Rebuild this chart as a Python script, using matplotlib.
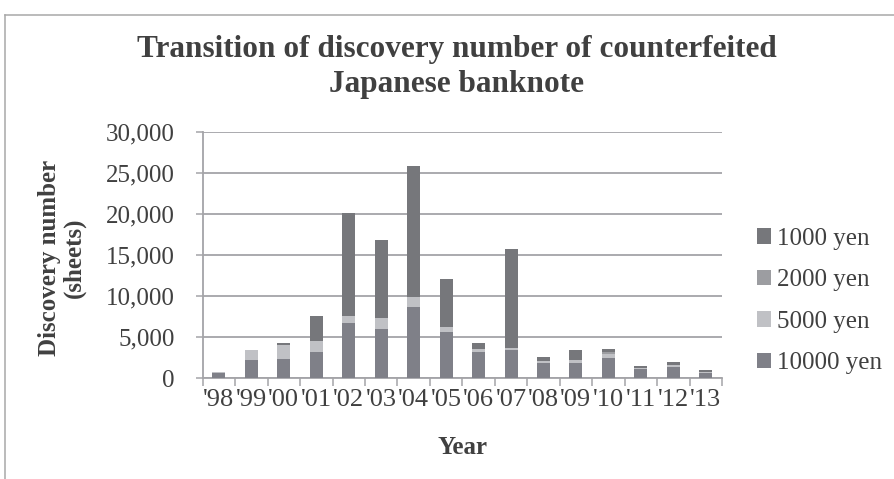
import matplotlib
matplotlib.use("Agg")
import matplotlib.pyplot as plt
from matplotlib.lines import Line2D
from matplotlib.patches import Patch
import numpy as np

# Counterfeit banknotes discovered per year, by denomination (sheets)
years = ["'98", "'99", "'00", "'01", "'02", "'03", "'04", "'05",
         "'06", "'07", "'08", "'09", "'10", "'11", "'12", "'13"]
yen10000 = [700, 2290, 2360, 3180, 6800, 6060, 8720, 5660,
            3250, 3460, 1870, 1870, 2480, 1140, 1420, 610]
yen5000 = [50, 1150, 1710, 1345, 780, 1300, 1140, 610,
           330, 245, 280, 370, 450, 160, 200, 160]
yen2000 = [0, 0, 0, 0, 0, 0, 0, 0,
           0, 0, 0, 0, 240, 0, 0, 0]
yen1000 = [50, 0, 200, 3060, 12630, 9540, 16010, 5900,
           700, 12100, 420, 1220, 370, 240, 330, 210]

series = [("10000 yen", yen10000, "#7f8088"),
          ("5000 yen", yen5000, "#c0c1c5"),
          ("2000 yen", yen2000, "#9c9da1"),
          ("1000 yen", yen1000, "#76777b")]

TEXT = "#404040"
GRID = "#a4a4a8"
SERIF = ["Liberation Serif", "DejaVu Serif"]
plt.rcParams["font.family"] = SERIF

W, H = 894, 479
fig = plt.figure(figsize=(W / 100, H / 100), dpi=100)
fig.patch.set_facecolor("white")

# plot area in pixels: x 202.7..722, y 132.3..378.3
x0, x1, ytop, ybot = 202.7, 722.0, 132.3, 378.3
ax = fig.add_axes([x0 / W, 1 - ybot / H, (x1 - x0) / W, (ybot - ytop) / H])

x = np.arange(len(years))
bottom = np.zeros(len(years))
handles = []
for name, vals, color in series:
    v = np.array(vals, dtype=float)
    ax.bar(x, v, width=0.4, bottom=bottom, color=color, linewidth=0, zorder=3)
    bottom += v
    handles.append(Patch(facecolor=color, label=name))

ax.set_xlim(-0.5, len(years) - 0.5)
ax.set_ylim(0, 30000)
ax.set_yticks(np.arange(0, 30001, 5000))
ax.set_yticklabels([f"{v:,}" for v in range(0, 30001, 5000)])
ax.yaxis.grid(True, color=GRID, linewidth=1.3, zorder=0)
ax.set_axisbelow(True)

# category labels at centres, tick marks between categories
ax.set_xticks(x)
ax.set_xticklabels(years)
ax.set_xticks(np.arange(-0.5, len(years), 1.0), minor=True)
ax.tick_params(axis="x", which="major", length=0, pad=8,
               labelsize=19, labelcolor=TEXT)
ax.tick_params(axis="x", which="minor", length=6, width=1.1,
               color=GRID, direction="out")
ax.tick_params(axis="y", length=5, width=1.1, color=GRID,
               pad=15, labelsize=18, labelcolor=TEXT)

for s in ("top", "right"):
    ax.spines[s].set_visible(False)
for s in ("left", "bottom"):
    ax.spines[s].set_color(GRID)
    ax.spines[s].set_linewidth(1.3)

# titles
fig.text(457 / W, 1 - 67 / H,
         "Transition of discovery number of counterfeited\nJapanese banknote",
         ha="center", va="center", fontsize=22.5, fontweight="bold",
         color=TEXT, linespacing=1.3)
fig.text(62 / W, 1 - 258 / H, "Discovery number\n(sheets)",
         rotation=90, ha="center", va="center", multialignment="center",
         fontsize=18, fontweight="bold", color=TEXT, linespacing=1.05)
fig.text(462 / W, 1 - 448 / H, "Year", ha="center", va="center",
         fontsize=18, fontweight="bold", color=TEXT)

# legend lists the top series first
leg = fig.legend(handles=handles[::-1], loc="center left",
                 bbox_to_anchor=(757 / W, 1 - 301 / H), frameon=False,
                 fontsize=18, handlelength=0.56, handleheight=0.56,
                 handletextpad=0.25, labelspacing=0.78, borderpad=0,
                 borderaxespad=0)
for t in leg.get_texts():
    t.set_color(TEXT)

# chart-area border (top and left edges)
fy = 1 - 14.5 / H
fx = 4.5 / W
fig.add_artist(Line2D([fx, 1.0], [fy, fy], color="#a8a8a8", linewidth=1.1,
                      transform=fig.transFigure))
fig.add_artist(Line2D([fx, fx], [0.0, fy], color="#a8a8a8", linewidth=1.1,
                      transform=fig.transFigure))

fig.savefig("out.png", dpi=100, facecolor="white")
